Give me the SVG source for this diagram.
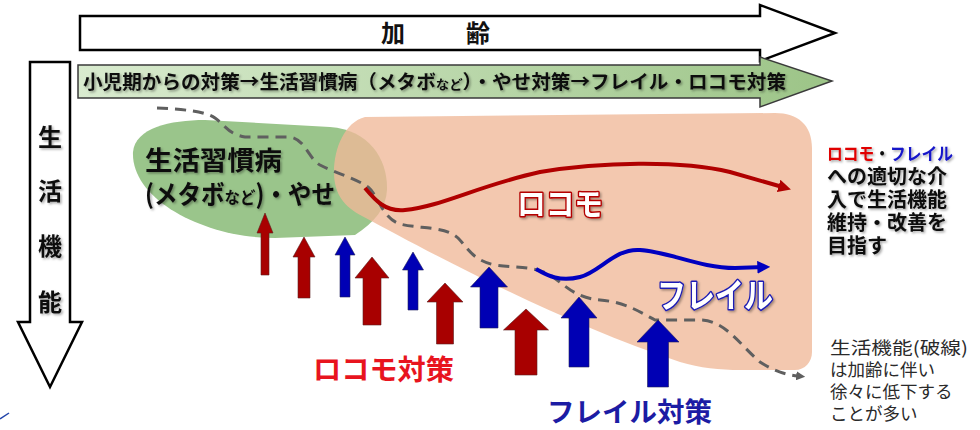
<svg xmlns="http://www.w3.org/2000/svg" width="980" height="430" viewBox="0 0 980 430">
<defs>
<style>
.jp{font-family:"Noto Sans CJK JP","Noto Sans",sans-serif;}
.b{font-weight:bold;}
.frame{fill:#ffffff;stroke:#000000;stroke-width:2.5;stroke-linejoin:miter;}
.red{fill:#a80000;stroke:#5a2020;stroke-width:0.6;}
.blue{fill:#0000b4;stroke:#20205a;stroke-width:0.6;}
.dash{fill:none;stroke:#5f5f5f;stroke-width:3;stroke-dasharray:11 7;}
.blk{fill:#111111;}
.note{fill:#2a2a2a;font-size:17.5px;}
</style>
<linearGradient id="gg" x1="0" y1="0" x2="1" y2="0">
<stop offset="0" stop-color="#d9ebcf"/>
<stop offset="1" stop-color="#9cc487"/>
</linearGradient>
<filter id="sh" x="-10%" y="-20%" width="130%" height="160%">
<feDropShadow dx="1.5" dy="1.5" stdDeviation="1" flood-color="#000" flood-opacity="0.35"/>
</filter>
<marker id="mr" viewBox="0 0 10 10" refX="6" refY="5" markerWidth="3.2" markerHeight="3.2" orient="auto" markerUnits="strokeWidth">
<path d="M0,0 L10,5 L0,10 z" fill="#b00000"/>
</marker>
<marker id="mb" viewBox="0 0 10 10" refX="6" refY="5" markerWidth="3.2" markerHeight="3.2" orient="auto" markerUnits="strokeWidth">
<path d="M0,0 L10,5 L0,10 z" fill="#0000c0"/>
</marker>
<marker id="mg" viewBox="0 0 10 10" refX="2" refY="5" markerWidth="3" markerHeight="3" orient="auto" markerUnits="strokeWidth">
<path d="M0,0 L10,5 L0,10 z" fill="#5f5f5f"/>
</marker>
</defs>

<!-- top age arrow -->
<g id="age-arrow">
<polygon class="frame" points="80,16 760,16 760,5 835,33 760,61 760,50 80,50"/>
<text class="jp b blk" x="393" y="42" font-size="24" text-anchor="middle">加</text>
<text class="jp b blk" x="478" y="42" font-size="24" text-anchor="middle">齢</text>
</g>

<!-- green measures arrow -->
<g id="measures-arrow">
<polygon points="78,65 760,65 760,57 832,81 760,107 760,98 78,98" fill="url(#gg)" stroke="#3a3a3a" stroke-width="1.5"/>
<text class="jp b blk" x="83" y="88.5" font-size="19" textLength="703" lengthAdjust="spacingAndGlyphs" filter="url(#sh)">小児期からの対策→生活習慣病（メタボ<tspan font-size="13">など</tspan>）・やせ対策→フレイル・ロコモ対策</text>
</g>

<!-- vertical life function arrow -->
<g id="function-arrow">
<polygon class="frame" points="30,62 70,62 70,322 82,322 50,387 18,322 30,322" stroke-width="2"/>
<g class="jp b blk" font-size="24" text-anchor="middle" filter="url(#sh)">
<text x="50" y="146">生</text>
<text x="50" y="200">活</text>
<text x="50" y="255">機</text>
<text x="50" y="311">能</text>
</g>
</g>

<!-- green region -->
<g id="lifestyle-region">
<path d="M133,152 C135,128 170,120 205,120 L330,127 C370,130 388,160 387,190 C386,208 375,222 355,235 L275,238 C205,238 131,200 133,152 Z" fill="#9ac58b"/>
</g>

<!-- salmon region -->
<g id="locomo-frail-region">
<path d="M365,117 C345,122 334,148 334,172 C334,195 345,207 362,216 C440,258 560,322 680,362 C700,368 720,370 740,370 L795,370 C805,370 812,362 812,352 L812,148 C812,125 798,113 775,113 Z" fill="#f0b898" fill-opacity="0.78"/>
</g>

<!-- connectors / curves -->
<g id="connectors">
<path class="dash" d="M157,108 C180,109 205,111 215,118 C225,125 228,134 245,137 L290,137 C305,139 308,158 320,165 C335,173 355,178 368,187 C378,195 382,218 400,224 C420,229 445,226 458,238 C468,248 472,260 495,265 C515,268 535,266 550,275 C565,285 575,298 600,300 C625,302 640,312 655,320 L700,320 C725,320 740,345 760,362 C775,372 788,375 798,376" marker-end="url(#mg)"/>
<path d="M365,188 C375,200 385,212 405,210 C440,207 480,185 540,172 C600,162 680,160 730,172 L786,188" fill="none" stroke="#b00000" stroke-width="4" marker-end="url(#mr)"/>
<path d="M536,269 C548,276 560,282 580,277 C600,272 615,248 640,250 C670,252 700,268 735,268 L765,267" fill="none" stroke="#0000c0" stroke-width="4" marker-end="url(#mb)"/>
</g>

<!-- block up arrows -->
<g id="measure-arrows">
<polygon class="red" points="261,275 261,233 257,233 265,213 273,233 269,233 269,275"/>
<polygon class="red" points="298,298 298,257 293,257 304,237 315,257 310,257 310,298"/>
<polygon class="blue" points="340,297 340,255 335,255 345,237 355,255 350,255 350,297"/>
<polygon class="red" points="363,325 363,278 355,278 372,257 389,278 381,278 381,325"/>
<polygon class="blue" points="408,310 408,270 402.5,270 413,252 423.5,270 418,270 418,310"/>
<polygon class="red" points="436.5,344 436.5,302 427,302 445,283 463,302 453.5,302 453.5,344"/>
<polygon class="blue" points="480,328 480,287 470.5,287 489,267 507.5,287 498,287 498,328"/>
<polygon class="red" points="515,375 515,330 503.5,330 526,309 548.5,330 537,330 537,375"/>
<polygon class="blue" points="569,367 569,318 561,318 579,297 597,318 589,318 589,367"/>
<polygon class="blue" points="647.5,387 647.5,342 637,342 658,320 679,342 668.5,342 668.5,387"/>
</g>

<!-- labels -->
<g id="lifestyle-label" class="jp b blk" filter="url(#sh)">
<text x="145" y="170" font-size="26" textLength="137" lengthAdjust="spacingAndGlyphs">生活習慣病</text>
<text x="145" y="204" font-size="26" textLength="190" lengthAdjust="spacingAndGlyphs">(メタボ<tspan font-size="17">など</tspan>)・やせ</text>
</g>

<g id="locomo-label">
<text class="jp b" x="517" y="215" font-size="31" textLength="86" lengthAdjust="spacingAndGlyphs" fill="#ffffff" stroke="#b40000" stroke-width="3" paint-order="stroke" stroke-linejoin="round" filter="url(#sh)">ロコモ</text>
</g>

<g id="frail-label">
<text class="jp b" x="657" y="308" font-size="34" textLength="116" lengthAdjust="spacingAndGlyphs" fill="#ffffff" stroke="#1a1ab4" stroke-width="3" paint-order="stroke" stroke-linejoin="round" filter="url(#sh)">フレイル</text>
</g>

<g id="locomo-measure-label">
<text class="jp b" x="313" y="380" font-size="28" textLength="141" lengthAdjust="spacingAndGlyphs" fill="#e8141e">ロコモ対策</text>
</g>

<g id="frail-measure-label">
<text class="jp b" x="547" y="422" font-size="27" textLength="165" lengthAdjust="spacingAndGlyphs" fill="#1c1ca4">フレイル対策</text>
</g>

<g id="goal-text" class="jp b blk" filter="url(#sh)">
<text x="827" y="160" font-size="17.5" textLength="126" lengthAdjust="spacingAndGlyphs"><tspan fill="#e00000">ロコモ</tspan>・<tspan fill="#1414c8">フレイル</tspan></text>
<text x="827" y="184" font-size="20">への適切な介</text>
<text x="827" y="207" font-size="20">入で生活機能</text>
<text x="827" y="230" font-size="20">維持・改善を</text>
<text x="827" y="253" font-size="20">目指す</text>
</g>

<g id="note-text" class="jp note">
<text x="830" y="354" textLength="138" lengthAdjust="spacingAndGlyphs">生活機能(破線)</text>
<text x="830" y="376">は加齢に伴い</text>
<text x="830" y="398">徐々に低下する</text>
<text x="830" y="420">ことが多い</text>
</g>

<path d="M0,419 L9,413" stroke="#2244aa" stroke-width="1.5" fill="none"/>
</svg>
